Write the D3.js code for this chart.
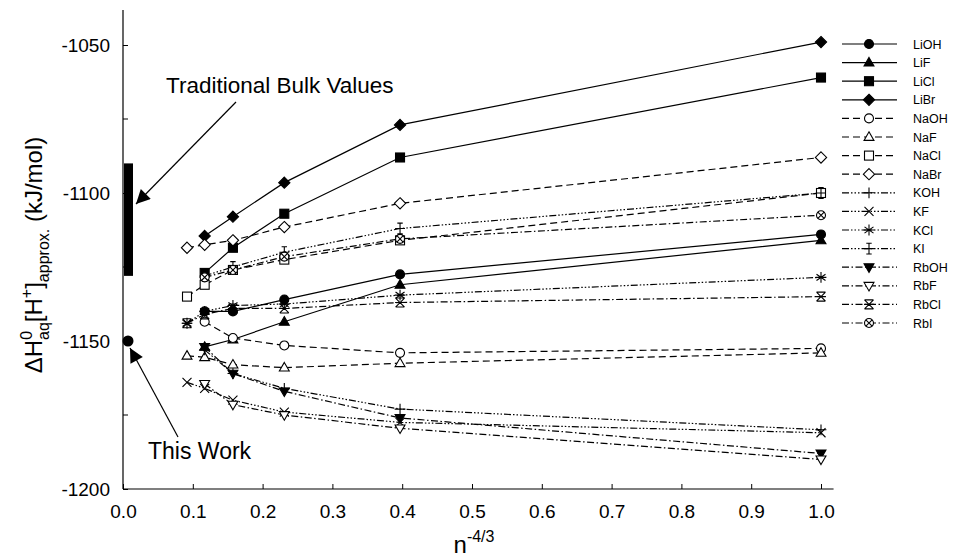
<!DOCTYPE html>
<html><head><meta charset="utf-8">
<script src="https://cdn.jsdelivr.net/npm/d3@7"></script>
<style>
body{margin:0;background:#fff;}
svg{display:block;font-family:Arial,"Liberation Sans",Helvetica,sans-serif;}
</style>
</head><body>
<svg id="chart" width="957" height="560"></svg>
<script>
// ---- data ----
const xValues = [0.0917, 0.1170, 0.1575, 0.2311, 0.3969, 1.0];
const seriesNames = ["LiOH","LiF","LiCl","LiBr","NaOH","NaF","NaCl","NaBr","KOH","KF","KCl","KI","RbOH","RbF","RbCl","RbI"];
const LiOH = [null, -1140, -1140, -1136, -1127.5, -1114];
const LiF  = [null, -1152, -1149.5, -1143.5, -1131, -1116];
const LiCl = [null, -1127, -1118.5, -1107, -1088, -1061];
const LiBr = [null, -1114.5, -1108, -1096.5, -1077, -1049];
const NaOH = [null, -1143.5, -1149, -1151.5, -1154, -1152.5];
const NaF  = [-1155, -1155.5, -1158, -1159, -1157.5, -1154];
const NaCl = [-1135, -1131, -1126, -1122.5, -1116, -1100];
const NaBr = [-1118.5, -1117.5, -1116, -1111.5, -1103.5, -1088];
const KOH  = [null, -1153, -1161, -1166, -1173, -1180];
const KF   = [-1164, -1166, -1170, -1174, -1177.5, -1181];
const KCl  = [-1144, -1140, -1138, -1137.5, -1134.5, -1128.5];
const KI   = [null, -1128, -1125, -1120, -1112, -1100];
const RbOH = [null, -1152, -1161, -1167, -1176, -1188];
const RbF  = [null, -1164.5, -1171.5, -1175, -1179.5, -1190];
const RbCl = [-1144, -1141, -1139, -1139, -1137, -1135];
const RbI  = [null, -1128.5, -1126, -1121.5, -1115.5, -1107.5];
const seriesValues = [LiOH,LiF,LiCl,LiBr,NaOH,NaF,NaCl,NaBr,KOH,KF,KCl,KI,RbOH,RbF,RbCl,RbI];
const xTicks = [0,0.1,0.2,0.3,0.4,0.5,0.6,0.7,0.8,0.9,1.0];
const yTicks = [-1200,-1150,-1100,-1050];
const yMinorTicks = [-1175,-1125,-1075];
const bulkRange = [-1128, -1090];
const thisWork = -1150;

// ---- styles ----
const markerOf = {LiOH:"circle",LiF:"triangle",LiCl:"square",LiBr:"diamond",
  NaOH:"circle",NaF:"triangle",NaCl:"square",NaBr:"diamond",
  KOH:"plus",KF:"cross",KCl:"asterisk",KI:"plusBar",
  RbOH:"triangleDown",RbF:"triangleDown",RbCl:"crossBar",RbI:"circleX"};
const filledOf = {LiOH:true,LiF:true,LiCl:true,LiBr:true,RbOH:true};
function dashOf(name){
  if(name.startsWith("Li")) return null;
  if(name.startsWith("Na")) return "7,4";
  if(name.startsWith("K")) return "7,2,1.5,2,1.5,2,1.5,2";
  return "7,2.5,1.5,2.5";
}

const svg = d3.select("#chart");
const x = d3.scaleLinear().domain([0,1]).range([123,821]);
const y = d3.scaleLinear().domain([-1200,-1050]).range([489,45]);
const FONT = "Arial,'Liberation Sans',sans-serif";

// axes
const xAxis = d3.axisBottom(x).tickValues(xTicks).tickFormat(d3.format(".1f")).tickSizeInner(-5).tickSizeOuter(0).tickPadding(16);
const gx = svg.append("g").attr("transform",`translate(0,${y(-1200)})`).call(xAxis);
gx.select(".domain").remove();
gx.append("line").attr("x1",x(0)).attr("x2",x(1.018)).attr("stroke","#000").attr("stroke-width",1.2);
gx.selectAll("text").attr("font-size",19).attr("fill","#000").attr("font-family",FONT);
gx.selectAll(".tick line").attr("stroke","#000");

const yAxis = d3.axisLeft(y).tickValues(yTicks).tickFormat(d=>String(d)).tickSizeInner(-5).tickSizeOuter(0).tickPadding(13);
const gy = svg.append("g").attr("transform",`translate(${x(0)},0)`).call(yAxis);
gy.select(".domain").remove();
gy.append("line").attr("y1",y(-1200)).attr("y2",y(-1038.2)).attr("stroke","#000").attr("stroke-width",1.2);
gy.selectAll("text").attr("font-size",19).attr("fill","#000").attr("font-family",FONT);
gy.selectAll(".tick line").attr("stroke","#000");
gy.selectAll(".minor").data(yMinorTicks).enter().append("line")
  .attr("x1",0).attr("x2",5).attr("y1",d=>y(d)).attr("y2",d=>y(d)).attr("stroke","#000");

// marker drawing
const S = 4.5;
function drawMarker(g, type, filled){
  const fill = filled ? "#000" : "#fff";
  let el;
  switch(type){
    case "circle": el = g.append("circle").attr("r",S).attr("fill",fill); break;
    case "square": el = g.append("rect").attr("x",-S).attr("y",-S).attr("width",2*S).attr("height",2*S).attr("fill",fill); break;
    case "triangle": el = g.append("path").attr("d",`M0,${-S*1.15}L${S*1.1},${S*0.75}L${-S*1.1},${S*0.75}Z`).attr("fill",fill); break;
    case "triangleDown": el = g.append("path").attr("d",`M0,${S*1.15}L${S*1.1},${-S*0.75}L${-S*1.1},${-S*0.75}Z`).attr("fill",fill); break;
    case "diamond": el = g.append("path").attr("d",`M0,${-S*1.25}L${S*1.25},0L0,${S*1.25}L${-S*1.25},0Z`).attr("fill",fill); break;
    case "plus": el = g.append("path").attr("d",`M${-S*1.2},0H${S*1.2}M0,${-S*1.2}V${S*1.2}`).attr("fill","none"); break;
    case "cross": el = g.append("path").attr("d",`M${-S},${-S}L${S},${S}M${-S},${S}L${S},${-S}`).attr("fill","none"); break;
    case "asterisk": el = g.append("path").attr("d",`M${-S},${-S*0.7}L${S},${S*0.7}M${-S},${S*0.7}L${S},${-S*0.7}M0,${-S*1.2}V${S*1.2}M${-S*1.2},0H${S*1.2}`).attr("fill","none"); break;
    case "plusBar": el = g.append("path").attr("d",`M${-S*1.1},0H${S*1.1}M0,${-S*1.2}V${S*1.2}M${-S*0.6},${-S*1.2}H${S*0.6}M${-S*0.6},${S*1.2}H${S*0.6}`).attr("fill","none"); break;
    case "crossBar": el = g.append("path").attr("d",`M${-S},${-S}L${S},${S}M${-S},${S}L${S},${-S}M${-S},${-S}H${S}M${-S},${S}H${S}M${-S*1.1},0H${S*1.1}`).attr("fill","none"); break;
    case "circleX": {
      g.append("circle").attr("r",S).attr("fill","#fff").attr("stroke","#000").attr("stroke-width",1.1);
      const k = S*0.7;
      el = g.append("path").attr("d",`M${-k},${-k}L${k},${k}M${-k},${k}L${k},${-k}`).attr("fill","none");
      break; }
  }
  el.attr("stroke","#000").attr("stroke-width",1.1);
}

// series
const plot = svg.append("g");
const line = d3.line().x(d=>x(d.x)).y(d=>y(d.v));
seriesNames.forEach((name,i)=>{
  const pts = xValues.map((xv,j)=>({x:xv,v:seriesValues[i][j]})).filter(d=>d.v!=null);
  const p = plot.append("path").datum(pts).attr("d",line)
    .attr("fill","none").attr("stroke","#000").attr("stroke-width",1.2);
  const da = dashOf(name); if(da) p.attr("stroke-dasharray",da);
});
seriesNames.forEach((name,i)=>{
  xValues.forEach((xv,j)=>{
    const v = seriesValues[i][j];
    if(v==null) return;
    const g = plot.append("g").attr("transform",`translate(${x(xv)},${y(v)})`);
    drawMarker(g, markerOf[name], !!filledOf[name]);
  });
});

// legend
const lg = svg.append("g");
seriesNames.forEach((name,i)=>{
  const yy = 44 + i*18.6;
  const l = lg.append("line").attr("x1",842).attr("x2",897).attr("y1",yy).attr("y2",yy)
    .attr("stroke","#000").attr("stroke-width",1.2);
  const da = dashOf(name); if(da) l.attr("stroke-dasharray",da);
  const g = lg.append("g").attr("transform",`translate(869,${yy})`);
  drawMarker(g, markerOf[name], !!filledOf[name]);
  lg.append("text").attr("x",913).attr("y",yy+4.5).attr("font-size",12.5).attr("fill","#000").text(name);
});

// annotations at x = 0
svg.append("rect").attr("x",x(0)+1).attr("width",9).attr("y",y(bulkRange[1])).attr("height",y(bulkRange[0])-y(bulkRange[1])).attr("fill","#000");
svg.append("circle").attr("cx",x(0)+5).attr("cy",y(thisWork)).attr("r",5.5).attr("fill","#000");

const defs = svg.append("defs");
defs.append("marker").attr("id","ah").attr("viewBox","0 0 10 10").attr("refX",10).attr("refY",5)
  .attr("markerWidth",22).attr("markerHeight",14).attr("markerUnits","userSpaceOnUse").attr("orient","auto")
  .append("path").attr("d","M0,0L10,5L0,10Z").attr("fill","#000");
svg.append("line").attr("x1",236).attr("y1",102).attr("x2",136).attr("y2",204)
  .attr("stroke","#000").attr("stroke-width",1.2).attr("marker-end","url(#ah)");
svg.append("line").attr("x1",178).attr("y1",437).attr("x2",130).attr("y2",348)
  .attr("stroke","#000").attr("stroke-width",1.2).attr("marker-end","url(#ah)");

svg.append("text").attr("x",166).attr("y",93).attr("font-size",22.5).attr("fill","#000").text("Traditional Bulk Values");
svg.append("text").attr("x",148).attr("y",459).attr("font-size",23).attr("fill","#000").text("This Work");

// axis titles
const xt = svg.append("text").attr("x",474).attr("y",553).attr("text-anchor","middle").attr("fill","#000");
xt.append("tspan").attr("font-size",24).text("n");
xt.append("tspan").attr("font-size",16).attr("dy",-11).text("-4/3");

const yt = svg.append("text").attr("transform","translate(42,255) rotate(-90)").attr("text-anchor","middle").attr("fill","#000").attr("font-size",24);
yt.append("tspan").text("ΔH");
yt.append("tspan").attr("font-size",16).attr("dy",-10).text("0");
yt.append("tspan").attr("font-size",16).attr("dx",-9).attr("dy",17).text("aq");
yt.append("tspan").attr("dy",-7).text("[H");
yt.append("tspan").attr("font-size",16).attr("dy",-10).text("+");
yt.append("tspan").attr("dy",10).text("]");
yt.append("tspan").attr("font-size",16).attr("dy",7).text("approx.");
yt.append("tspan").attr("dy",-7).text(" (kJ/mol)");
</script>
</body></html>
